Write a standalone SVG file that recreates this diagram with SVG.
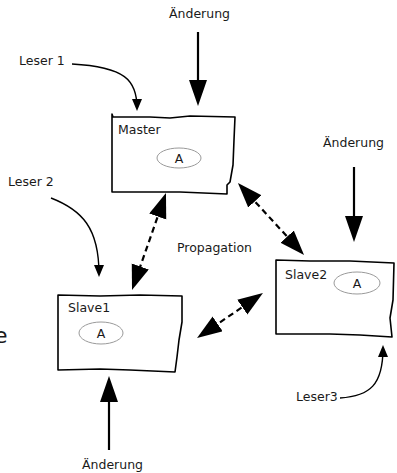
<svg xmlns="http://www.w3.org/2000/svg" width="397" height="473" viewBox="0 0 397 473">
<style>
text{font-family:"DejaVu Sans","Liberation Sans",sans-serif;font-size:12.5px;fill:#1a1a1a}
.box{fill:#fff;stroke:#000;stroke-width:1.6;stroke-linejoin:round}
.ell{fill:none;stroke:#9a9a9a;stroke-width:1}
.chg{stroke:#000;stroke-width:2.2;fill:none;marker-end:url(#big)}
.dash{stroke:#000;stroke-width:2.2;fill:none;stroke-dasharray:6 4;marker-start:url(#dbl);marker-end:url(#dbl)}
.rd{stroke:#000;stroke-width:1.4;fill:none;marker-end:url(#sm)}
</style>
<defs>
<marker id="big" markerUnits="userSpaceOnUse" markerWidth="28" markerHeight="20" refX="20" refY="9" orient="auto"><path d="M0,0 L26,9 L0,18 z" fill="#000"/></marker>
<marker id="dbl" markerUnits="userSpaceOnUse" markerWidth="28" markerHeight="20" refX="19" refY="9" orient="auto-start-reverse"><path d="M0,0 L25,9 L0,18 z" fill="#000"/></marker>
<marker id="sm" markerUnits="userSpaceOnUse" markerWidth="14" markerHeight="12" refX="9" refY="5" orient="auto"><path d="M0,0 L12,5 L0,10 z" fill="#000"/></marker>
</defs>
<g id="connectors">
<path class="chg" d="M198,32 L198,100"/>
<path class="chg" d="M354,167 L354,236"/>
<path class="chg" d="M109,450 L109,382"/>
<path class="dash" d="M164,198.6 L134,284.4"/>
<path class="dash" d="M242,187.4 L300,250.6"/>
<path class="dash" d="M258,296.4 L202,334.6"/>
<path class="rd" d="M72,64 C125,67 137,80 137,108"/>
<path class="rd" d="M51,198 C82,210 99,228 99,274"/>
<path class="rd" d="M340,398 C370,396 383,385 383,348"/>
</g>
<g id="master">
<path class="box" d="M112,118 L112,114 L113,117 L150,117 L170,118 L190,116 L235,117 L234,140 L233,165 L230,182 L227,185 L227,194 L180,192 L112,192 Z"/>
<text x="118" y="134">Master</text>
<ellipse class="ell" cx="179" cy="158" rx="22" ry="10"/>
<text x="179" y="162.5" text-anchor="middle">A</text>
</g>
<g id="slave1">
<path class="box" d="M58,295 L100,296 L140,295 L182,296 L182,322 L179,340 L177,357 L175,372 L130,370 L100,369 L58,370 Z"/>
<text x="68" y="312">Slave1</text>
<ellipse class="ell" cx="101" cy="333" rx="22" ry="11"/>
<text x="101" y="337.5" text-anchor="middle">A</text>
</g>
<g id="slave2">
<path class="box" d="M276,260 L310,261 L350,261 L394,263 L393,300 L390,318 L392,337 L360,335 L330,334 L276,334 Z"/>
<text x="285" y="279">Slave2</text>
<ellipse class="ell" cx="357" cy="283" rx="23" ry="11"/>
<text x="357" y="287.5" text-anchor="middle">A</text>
</g>
<g id="labels">
<text x="169" y="18">Änderung</text>
<text x="323" y="147">Änderung</text>
<text x="82" y="469">Änderung</text>
<text x="19" y="65">Leser 1</text>
<text x="8" y="186">Leser 2</text>
<text x="296" y="401">Leser3</text>
<text x="177" y="252">Propagation</text>
<text x="-6" y="343" style="font-size:22px">e</text>
</g>
</svg>
